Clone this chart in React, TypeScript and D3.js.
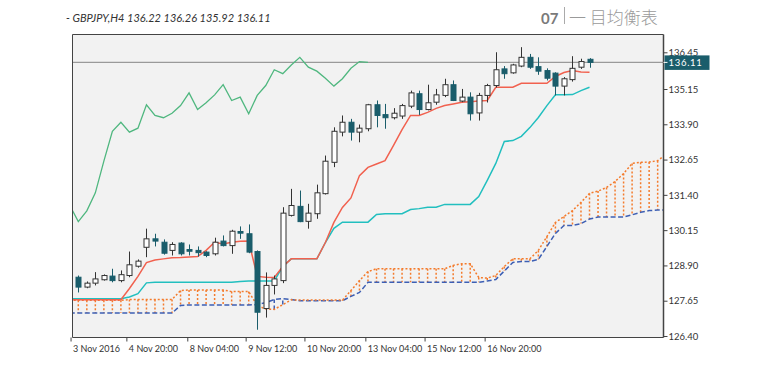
import React from "react";
import * as d3 from "d3";

// ---- data (GBPJPY H4) ----
const openP = [128.50,128.15,128.29,128.41,128.54,128.38,128.56,128.89,129.56,129.86,129.74,129.45,129.71,129.48,129.45,129.39,129.33,129.78,129.62,130.12,130.04,129.41,127.39,128.21,128.38,130.69,131.01,130.48,130.75,131.46,132.57,133.64,133.99,133.64,133.76,134.61,134.26,134.15,134.21,134.56,135.00,134.44,134.70,134.94,135.32,134.74,134.88,134.32,134.94,135.29,135.88,135.74,135.98,136.29,135.96,135.82,135.73,135.27,135.50,135.94,136.22];
const highP = [128.56,128.35,128.68,128.60,128.80,128.74,129.41,129.13,130.22,130.04,129.84,129.74,129.74,129.66,129.59,129.42,129.90,129.98,130.18,130.30,130.37,129.45,128.67,128.56,130.98,131.63,131.57,131.10,131.78,132.81,133.81,134.23,134.11,133.91,134.64,134.76,134.64,134.49,134.64,135.11,135.11,135.32,135.17,135.53,135.47,135.17,135.05,135.03,135.35,136.47,135.98,136.06,136.65,136.41,136.29,135.90,135.76,135.59,136.33,136.24,136.26];
const lowP = [127.96,128.11,128.21,128.38,128.32,128.32,128.50,128.84,129.21,129.59,129.30,129.27,129.27,129.27,129.23,129.21,129.27,129.59,129.33,129.86,129.35,126.64,127.07,127.89,128.29,130.65,130.45,130.22,130.57,131.43,132.40,133.49,133.34,133.28,133.67,133.81,133.76,134.09,134.11,134.49,134.25,134.41,134.61,134.88,134.74,134.70,134.05,134.05,134.69,135.22,135.53,135.71,135.94,135.88,135.67,135.47,134.94,134.94,135.43,135.88,135.92];
const closeP = [128.15,128.29,128.44,128.56,128.38,128.59,128.94,129.07,129.86,129.78,129.35,129.66,129.33,129.42,129.37,129.27,129.74,129.62,130.13,130.06,129.39,127.26,128.21,128.44,130.77,131.04,130.47,130.77,131.49,132.61,133.67,133.99,133.64,133.78,134.61,134.23,134.15,134.31,134.58,135.03,134.44,134.68,134.96,135.32,134.76,134.88,134.29,134.94,135.29,135.85,135.71,136.02,136.29,135.94,135.80,135.55,135.27,135.53,135.90,136.14,136.11];

// indicator lines start at bar index -1
const lineStart = -1;
const tenkan = [127.70,127.70,127.70,127.70,127.70,127.70,127.70,128.10,128.53,129.02,129.11,129.15,129.19,129.20,129.22,129.23,129.45,129.74,129.68,129.74,129.77,129.78,128.53,128.50,128.49,128.88,129.15,129.15,129.15,129.15,129.73,130.44,130.97,131.31,132.10,132.39,132.51,132.63,133.17,133.73,134.23,134.23,134.34,134.48,134.58,134.64,134.70,134.72,134.74,134.76,135.23,135.23,135.23,135.37,135.37,135.37,135.37,135.61,135.75,135.82,135.77,135.76];
const kijun = [127.74,127.74,127.74,127.74,127.74,127.74,127.74,127.80,127.92,128.30,128.32,128.32,128.32,128.32,128.32,128.32,128.32,128.32,128.32,128.32,128.35,128.37,128.37,128.37,128.37,128.88,129.15,129.15,129.15,129.15,129.73,130.23,130.45,130.45,130.45,130.45,130.72,130.75,130.75,130.75,130.90,130.93,130.98,130.98,131.08,131.08,131.08,131.08,131.36,131.93,132.53,133.31,133.34,133.49,133.80,134.16,134.58,134.96,134.96,134.97,135.11,135.23];
const chikou = [131.04,130.47,130.85,131.49,132.61,133.67,133.99,133.64,133.78,134.61,134.23,134.15,134.31,134.58,135.03,134.44,134.68,134.96,135.32,134.76,134.88,134.29,134.94,135.29,135.85,135.71,136.02,136.29,135.94,135.80,135.55,135.27,135.53,135.90,136.14,136.11];
const spanA = [127.68,127.68,127.68,127.68,127.68,127.68,127.68,127.71,127.71,127.71,127.71,127.71,127.71,128.03,128.05,128.05,128.05,128.05,128.05,127.99,127.99,127.99,127.50,127.37,127.36,127.53,127.70,127.69,127.69,127.69,127.69,127.69,127.69,128.03,128.38,128.70,128.80,128.80,128.80,128.80,128.80,128.80,128.80,128.80,128.80,128.92,128.98,128.98,128.49,128.47,128.56,128.88,129.15,129.15,129.15,129.45,129.94,130.44,130.65,130.86,131.15,131.47,131.55,131.68,131.89,132.17,132.53,132.57,132.58,132.63,132.85];
const spanB = [127.23,127.23,127.23,127.23,127.23,127.23,127.23,127.23,127.23,127.23,127.23,127.23,127.23,127.50,127.52,127.52,127.52,127.52,127.52,127.52,127.52,127.52,127.53,127.60,127.71,127.74,127.71,127.67,127.67,127.67,127.67,127.67,127.67,127.82,127.96,128.32,128.32,128.32,128.32,128.32,128.32,128.32,128.32,128.32,128.32,128.32,128.32,128.32,128.32,128.37,128.42,128.72,129.02,129.06,129.06,129.13,129.59,130.05,130.33,130.33,130.40,130.56,130.63,130.63,130.63,130.63,130.71,130.80,130.86,130.88,130.88];

const yTicks = [136.45, 135.15, 133.9, 132.65, 131.4, 130.15, 128.9, 127.65, 126.4];
const xTickIndex = [-0.85, 5.7, 12.85, 19.7, 26.6, 33.75, 40.7, 47.75];
const xTickLabels = ["3 Nov 2016", "4 Nov 20:00", "8 Nov 04:00", "9 Nov 12:00", "10 Nov 20:00", "13 Nov 04:00", "15 Nov 12:00", "16 Nov 20:00"];
const lastPrice = 136.11;
const headerText = "- GBPJPY,H4 136.22 136.26 135.92 136.11";

const W = 766, H = 371;
const plot = { l: 72.5, r: 663.5, t: 34.5, b: 337.5 };
const TEAL = "#1a5d6b";
const FONT = "Lato, 'Open Sans', sans-serif";

export default function App() {
  const x = d3.scaleLinear().domain([0, 60]).range([78.3, 589.5]);
  const y = d3.scaleLinear().domain([126.4, 135.15]).range([336.5, 89.5]);

  const mk = (arr: number[]) =>
    d3.line<number>().x((_, i) => x(i + lineStart)).y((v) => y(v))(arr) || "";

  const bodyW = 5;

  return (
    <svg width={W} height={H} style={{ position: "absolute", left: 0, top: 0, background: "#fff" }}>
      <defs>
        <clipPath id="pc">
          <rect x={plot.l} y={plot.t} width={plot.r - plot.l} height={plot.b - plot.t} />
        </clipPath>
      </defs>
      <rect x={0} y={0} width={W} height={H} fill="#fff" />
      <rect x={plot.l} y={plot.t} width={plot.r - plot.l} height={plot.b - plot.t} fill="#f2f2f2" />

      {/* header */}
      <text x={66} y={22} fontFamily={FONT} fontStyle="italic" fontSize={11} fill="#333">{headerText}</text>
      <text x={541} y={24} fontFamily={FONT} fontWeight="bold" fontSize={15} fill="#7a7a7a">07</text>
      <line x1={564.5} x2={564.5} y1={7} y2={24} stroke="#aaa" strokeWidth={1} />
      <text x={569} y={24} fontFamily="'Noto Sans CJK SC'" fontWeight={300} fontSize={17} fill="#9a9a9a">一 目均衡表</text>

      <g clipPath="url(#pc)">
        {/* kumo hatch */}
        {spanA.map((a, k) => {
          const b = spanB[k];
          const up = a >= b;
          return (
            <line key={"h" + k} x1={x(k + lineStart)} x2={x(k + lineStart)} y1={y(a)} y2={y(b)}
              stroke={up ? "#f47b2c" : "#3d5fb4"} strokeWidth={1.5}
              strokeDasharray={up ? "2,2" : "4,2.5"} />
          );
        })}
        <path d={mk(spanB)} fill="none" stroke="#3d5fb4" strokeWidth={1.5} strokeDasharray="5,2.5" />
        <path d={mk(spanA)} fill="none" stroke="#f47b2c" strokeWidth={1.5} strokeDasharray="2,2" />

        {/* current price line */}
        <line x1={plot.l} x2={plot.r} y1={y(lastPrice)} y2={y(lastPrice)} stroke="#9a9a9a" strokeWidth={1.2} />

        <path d={mk(chikou)} fill="none" stroke="#4fb77f" strokeWidth={1.3} />
        <path d={mk(kijun)} fill="none" stroke="#22bfbf" strokeWidth={1.5} />
        <path d={mk(tenkan)} fill="none" stroke="#f1614f" strokeWidth={1.5} />

        {/* candles */}
        {openP.map((o, i) => {
          const c = closeP[i];
          const bull = c >= o;
          const cx = Math.round(x(i)) + 0.5;
          const top = y(Math.max(o, c));
          const bot = y(Math.min(o, c));
          const col = bull ? "#333" : TEAL;
          return (
            <g key={"c" + i}>
              <line x1={cx} x2={cx} y1={y(highP[i])} y2={y(lowP[i])} stroke={col} strokeWidth={1} />
              <rect x={cx - bodyW / 2} y={top} width={bodyW} height={Math.max(1, bot - top)}
                fill={bull ? "#fff" : TEAL} stroke={col} strokeWidth={1} />
            </g>
          );
        })}
      </g>

      {/* frame */}
      <line x1={plot.l} x2={plot.r} y1={plot.t} y2={plot.t} stroke="#444" strokeWidth={1} />
      <line x1={plot.l} x2={plot.l} y1={plot.t} y2={plot.b} stroke="#444" strokeWidth={1} />
      <line x1={plot.l} x2={plot.r} y1={plot.b} y2={plot.b} stroke="#444" strokeWidth={1} />
      <line x1={plot.r} x2={plot.r} y1={plot.t} y2={plot.b} stroke="#444" strokeWidth={1.5} />

      {/* y axis */}
      {yTicks.map((t) => (
        <g key={"y" + t}>
          <line x1={plot.r} x2={plot.r + 4} y1={y(t)} y2={y(t)} stroke="#444" />
          <text x={plot.r + 5} y={y(t) + 3.2} fontFamily={FONT} fontSize={9.5} fill="#333">{t.toFixed(2)}</text>
        </g>
      ))}
      <rect x={plot.r + 1} y={y(lastPrice) - 7} width={45} height={14.5} fill={TEAL} />
      <line x1={plot.r} x2={plot.r + 4} y1={y(lastPrice)} y2={y(lastPrice)} stroke="#fff" />
      <text x={plot.r + 5} y={y(lastPrice) + 3.6} fontFamily={FONT} fontSize={9.5} fill="#fff" letterSpacing={0.7}>{lastPrice.toFixed(2)}</text>

      {/* x axis */}
      {xTickIndex.map((t, k) => (
        <g key={"x" + k}>
          <line x1={x(t)} x2={x(t)} y1={plot.b} y2={plot.b + 4} stroke="#444" />
          <text x={x(t) + 2} y={352} fontFamily={FONT} fontSize={9} fill="#333">{xTickLabels[k]}</text>
        </g>
      ))}
    </svg>
  );
}
